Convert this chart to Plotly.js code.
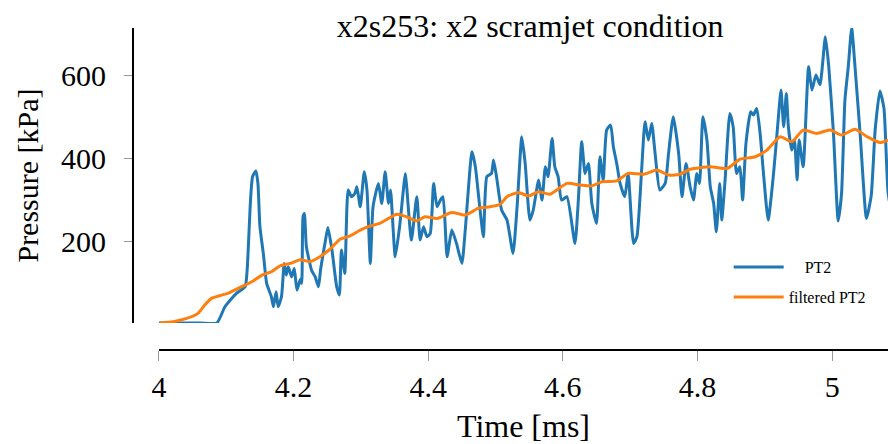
<!DOCTYPE html>
<html>
<head>
<meta charset="utf-8">
<script src="https://cdn.plot.ly/plotly-3.0.1.min.js"></script>
<style>html,body{margin:0;padding:0;background:#fff;}#chart{width:888px;height:444px;}</style>
</head>
<body>
<div id="chart"></div>
<script>
// Time [ms] and pressure [kPa]
const pt2Time = [4.000,4.061,4.086,4.098,4.115,4.128,4.131,4.136,4.139,4.144,4.147,4.150,4.155,4.160,4.167,4.170,4.174,4.177,4.182,4.186,4.189,4.192,4.197,4.201,4.205,4.210,4.212,4.214,4.216,4.219,4.227,4.232,4.237,4.240,4.247,4.251,4.257,4.264,4.268,4.271,4.276,4.281,4.286,4.291,4.294,4.299,4.305,4.309,4.314,4.318,4.326,4.331,4.336,4.341,4.344,4.351,4.358,4.366,4.368,4.375,4.383,4.388,4.393,4.398,4.403,4.408,4.413,4.418,4.422,4.428,4.435,4.442,4.450,4.455,4.465,4.470,4.477,4.482,4.487,4.494,4.497,4.502,4.509,4.517,4.526,4.532,4.539,4.544,4.551,4.556,4.564,4.569,4.574,4.578,4.584,4.588,4.593,4.598,4.606,4.618,4.623,4.628,4.633,4.638,4.643,4.650,4.655,4.660,4.665,4.671,4.675,4.680,4.685,4.692,4.697,4.705,4.710,4.717,4.722,4.727,4.732,4.737,4.744,4.752,4.757,4.764,4.772,4.777,4.783,4.789,4.794,4.799,4.803,4.808,4.814,4.819,4.824,4.828,4.833,4.836,4.841,4.848,4.853,4.858,4.863,4.867,4.872,4.879,4.883,4.888,4.893,4.898,4.905,4.913,4.919,4.924,4.928,4.932,4.935,4.940,4.944,4.948,4.951,4.957,4.965,4.970,4.976,4.982,4.990,4.995,5.002,5.009,5.014,5.019,5.024,5.029,5.034,5.042,5.051,5.058,5.064,5.071,5.077,5.083,5.090];
const pt2Pressure = [5,5,5,44,76,92,132,300,356,370,340,236,172,100,68,44,80,44,68,148,120,140,116,136,84,110,100,260,268,188,130,116,92,132,200,234,180,92,72,180,124,324,308,316,332,284,368,324,148,284,340,292,368,292,324,164,244,364,332,204,308,204,236,212,220,340,284,300,308,164,228,196,148,228,416,380,276,212,356,364,396,350,276,252,172,284,452,388,252,276,348,300,380,356,448,380,356,300,308,196,300,440,364,388,292,244,404,348,468,480,428,388,340,308,364,196,212,372,488,444,484,412,324,340,412,500,412,308,388,332,300,364,340,500,444,332,292,224,340,252,348,508,476,364,380,300,436,512,504,520,460,364,252,364,476,564,476,556,476,420,444,348,444,380,620,564,600,577,692,620,460,250,316,540,620,713,620,450,256,310,470,562,520,320,250];

const filtTime = [4.001,4.021,4.041,4.058,4.068,4.078,4.093,4.105,4.120,4.138,4.153,4.167,4.180,4.195,4.210,4.224,4.239,4.254,4.269,4.284,4.299,4.314,4.328,4.341,4.353,4.368,4.383,4.395,4.413,4.435,4.455,4.474,4.492,4.507,4.517,4.534,4.549,4.564,4.581,4.606,4.626,4.643,4.658,4.680,4.697,4.720,4.740,4.757,4.774,4.789,4.819,4.844,4.863,4.886,4.903,4.923,4.940,4.957,4.977,4.997,5.014,5.034,5.052,5.071,5.083];
const filtPressure = [5,8,16,28,48,64,72,78,90,104,120,128,142,148,157,152,164,182,206,214,228,238,244,256,266,260,250,260,256,270,264,280,284,290,308,318,310,320,314,340,336,334,344,346,364,362,372,360,362,374,380,376,398,404,420,452,440,468,460,468,456,470,452,438,444];

const xTickVals = [4, 4.2, 4.4, 4.6, 4.8, 5];
const xTickText = ['4', '4.2', '4.4', '4.6', '4.8', '5'];
const yTickVals = [200, 400, 600];
const yTickText = ['200', '400', '600'];

const serif = '"Liberation Serif", "Times New Roman", serif';

const traces = [
  {x: pt2Time, y: pt2Pressure, type: 'scatter', mode: 'lines', name: '\u00a0\u00a0\u00a0\u00a0PT2',
   line: {color: '#1f77b4', width: 3, shape: 'spline', smoothing: 0.5}, legendgroup: 'a'},
  {x: filtTime, y: filtPressure, type: 'scatter', mode: 'lines', name: 'filtered PT2',
   line: {color: '#ff7f0e', width: 3, shape: 'spline', smoothing: 0.6}, legendgroup: 'b'}
];

const layout = {
  width: 888, height: 444,
  paper_bgcolor: '#fff', plot_bgcolor: '#fff',
  margin: {l: 133, r: 0, t: 28, b: 94, pad: 0},
  font: {family: serif, color: '#000', size: 30},
  title: {text: 'x2s253: x2 scramjet condition', font: {family: serif, size: 32, color: '#000'},
          x: 0.526, xref: 'paper', xanchor: 'center', y: 0.943, yref: 'container', yanchor: 'middle'},
  xaxis: {
    domain: [0.0344, 1], anchor: 'free', position: 0,
    range: [4, 5.083], showgrid: false, zeroline: false,
    showline: true, linecolor: '#000', linewidth: 2,
    ticks: 'outside', ticklen: 10, tickcolor: '#999', tickwidth: 1,
    tickvals: xTickVals, ticktext: xTickText, tickfont: {family: serif, size: 30},
    title: {text: 'Time [ms]', font: {family: serif, size: 32}, standoff: 13}
  },
  yaxis: {
    domain: [0.0839, 1], anchor: 'free', position: 0,
    range: [5, 713], showgrid: false, zeroline: false,
    showline: true, linecolor: '#000', linewidth: 2,
    ticks: 'outside', ticklen: 8, tickcolor: '#999', tickwidth: 1,
    tickvals: yTickVals, ticktext: yTickText, tickfont: {family: serif, size: 30},
    ticklabelstandoff: 12,
    title: {text: 'Pressure [kPa]', font: {family: serif, size: 30}, standoff: 12}
  },
  showlegend: true,
  legend: {x: 0.789, xanchor: 'left', y: 0.31, yanchor: 'top', xref: 'paper', yref: 'paper',
           bgcolor: 'rgba(0,0,0,0)', borderwidth: 0, traceorder: 'grouped', tracegroupgap: 6,
           itemwidth: 50,
           font: {family: serif, size: 16, color: '#000'}}
};

Plotly.newPlot('chart', traces, layout, {displayModeBar: false, staticPlot: true});
</script>
</body>
</html>
